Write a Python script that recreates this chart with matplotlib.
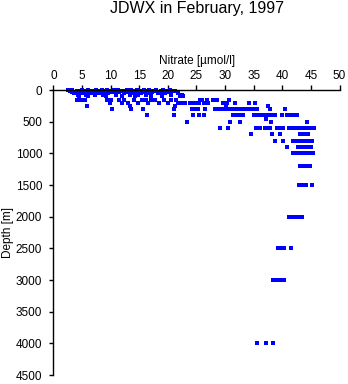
import numpy as np
import matplotlib.pyplot as plt

plt.rcParams['font.family'] = ['Liberation Sans', 'DejaVu Sans']

# nitrate readings (umol/l) at each standard depth (m)
n_0 = [2.5, 3.2, 5.0, 6.1, 7.5, 8.4, 9.3, 10.5, 11.2, 12.8, 13.5, 14.6, 15.8, 16.7, 18.0, 19.2, 20.4]
n_10 = [2.8, 4.1, 5.5, 6.6, 7.8, 9.0, 10.1, 11.8, 13.0, 14.2, 15.5, 16.9, 17.8, 19.6, 20.8]
n_20 = [3.0, 4.6, 5.8, 7.0, 8.2, 9.6, 10.8, 12.3, 13.8, 15.1, 16.3, 17.5, 18.8, 20.1, 21.3]
n_30 = [3.3, 5.2, 6.3, 7.6, 8.8, 10.2, 11.5, 12.9, 14.4, 15.9, 17.2, 18.5, 19.9]
n_50 = [3.6, 4.9, 6.8, 8.0, 9.5, 10.9, 12.4, 14.0, 15.3, 16.8, 18.2, 19.5, 21.8]
n_75 = [4.2, 5.6, 7.2, 8.6, 11.0, 13.3, 14.8, 16.1, 18.9, 20.5, 22.5]
n_100 = [4.5, 6.0, 9.1, 12.0, 14.3, 17.0, 19.0, 22.1, 22.7]
n_150 = [4.1, 4.8, 5.5, 9.4, 10.0, 11.5, 12.3, 14.0, 15.5, 16.2, 17.0, 17.8, 19.3, 20.6,
         21.4, 25.6, 26.0, 26.8, 27.9, 28.6, 30.7]
n_200 = [9.8, 11.9, 13.0, 14.8, 16.5, 18.4, 20.0, 21.8, 22.4, 23.0, 23.8, 24.5, 25.1, 25.5,
         26.3, 27.0, 29.6, 30.0, 30.3, 31.7, 34.2, 35.2]
n_250 = [5.8, 13.4, 21.2, 30.2, 37.5]
n_300 = [10.2, 13.5, 15.7, 21.0, 24.2, 24.8, 25.3, 26.5, 28.2, 28.7, 29.1, 29.6, 30.2, 30.9,
         31.4, 32.0, 32.5, 33.0, 33.5, 34.1, 34.9, 35.6, 37.8, 40.5]
n_400 = [16.3, 21.0, 24.4, 25.4, 26.3, 31.4, 32.0, 32.6, 33.1, 35.0, 35.6, 36.3, 36.9, 37.5,
         38.1, 38.7, 40.0, 40.8, 41.4, 42.0, 42.6]
n_450 = [37.2]
n_500 = [23.3, 30.9, 32.6, 38.0, 44.3]
n_600 = [29.1, 30.5, 35.4, 36.1, 37.0, 37.3, 37.8, 39.1, 39.6, 40.1, 41.2, 41.8, 42.4, 43.0,
         43.5, 44.0, 44.7, 45.1, 45.5]
n_700 = [34.5, 38.2, 39.6, 43.1, 43.6, 44.1, 44.5]
n_800 = [38.7, 40.1, 41.9, 42.5, 43.1, 43.7, 44.3, 44.8, 45.2]
n_900 = [40.8, 42.7, 43.4, 43.9, 44.3, 45.0]
n_1000 = [41.9, 42.5, 43.1, 43.6, 44.1, 44.6, 45.0, 45.4]
n_1200 = [43.1, 43.6, 44.2, 44.8]
n_1500 = [42.9, 43.5, 44.1, 45.2]
n_2000 = [41.2, 41.8, 42.4, 42.9, 43.5]
n_2500 = [39.2, 39.8, 40.3, 41.5]
n_3000 = [38.4, 39.0, 39.6, 40.3]
n_4000 = [35.6, 37.2, 38.4]

depths = [0, 10, 20, 30, 50, 75, 100, 150, 200, 250, 300, 400, 450, 500, 600,
          700, 800, 900, 1000, 1200, 1500, 2000, 2500, 3000, 4000]
readings = [n_0, n_10, n_20, n_30, n_50, n_75, n_100, n_150, n_200, n_250, n_300, n_400,
            n_450, n_500, n_600, n_700, n_800, n_900, n_1000, n_1200, n_1500, n_2000,
            n_2500, n_3000, n_4000]

nitrate = np.concatenate([np.array(r, dtype=float) for r in readings])
depth = np.concatenate([np.full(len(r), d, dtype=float) for r, d in zip(readings, depths)])

fig = plt.figure(figsize=(3.48, 3.84), dpi=100)
ax = fig.add_axes([0.1537, 0.0234, 0.8219, 0.7422])

ax.plot(nitrate, depth, 's', color='#0000ff', ms=2.2, mew=0, clip_on=False)

ax.set_xlim(0, 50)
ax.set_ylim(4500, 0)
ax.set_xticks(np.arange(0, 51, 5))
ax.set_yticks(np.arange(0, 4501, 500))
ax.xaxis.tick_top()
ax.spines['right'].set_visible(False)
ax.spines['bottom'].set_visible(False)
for s in ['top', 'left']:
    ax.spines[s].set_linewidth(1.0)
ax.tick_params(axis='x', direction='out', length=3.6, width=1.0, pad=2.5, labelsize=8.5)
ax.tick_params(axis='y', direction='out', length=3.2, width=1.0, pad=5, labelsize=8.5)

fig.text(0.565, 1 - 8.5 / 384, 'JDWX in February, 1997', ha='center', va='center', fontsize=11.5)
fig.text(0.565, 1 - 61 / 384, 'Nitrate [µmol/l]', ha='center', va='center', fontsize=8.5)
fig.text(8 / 348, 1 - 233 / 384, 'Depth [m]', ha='center', va='center', rotation=90, fontsize=8.5)

fig.savefig('out.png', dpi=100)
